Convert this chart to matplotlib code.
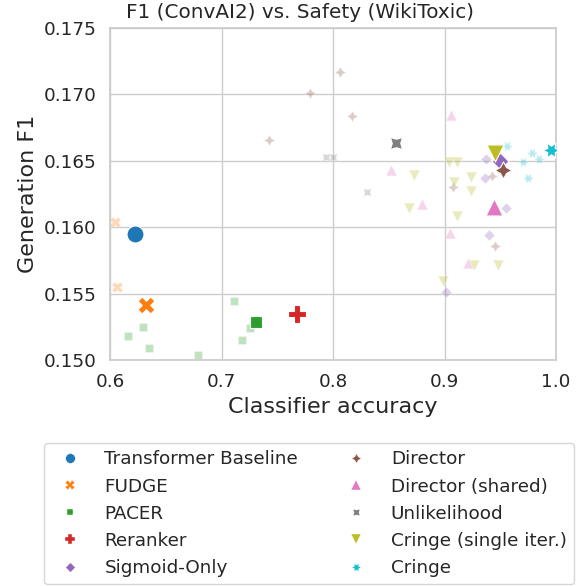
import numpy as np
import matplotlib
matplotlib.use("Agg")
import matplotlib.pyplot as plt
import seaborn as sns
from matplotlib.lines import Line2D

sns.set_theme(style="whitegrid", font_scale=1.2)

# method names, colours and markers (seaborn defaults)
methods = ["Transformer Baseline", "FUDGE", "PACER", "Reranker", "Sigmoid-Only",
           "Director", "Director (shared)", "Unlikelihood", "Cringe (single iter.)", "Cringe"]
colors = sns.color_palette("tab10", 10)
markers = ["o", "X", (4, 0, 45), "P", (4, 0, 0), (4, 1, 0), "^", (4, 1, 45), "v", (6, 1, 30)]

# best run per method (classifier accuracy, F1)
best_acc = [0.6227, 0.6326, 0.7307, 0.7674, 0.9498, 0.9525, 0.9444, 0.8565, 0.9453, 0.9955]
best_f1 = [0.15951, 0.15412, 0.15288, 0.15344, 0.16495, 0.16427, 0.16152, 0.16632, 0.16556, 0.16584]

# other runs (faded)
other_acc = [
    [],
    [0.6042, 0.6065],
    [0.7115, 0.7256, 0.7184, 0.6296, 0.6159, 0.6347, 0.6787],
    [],
    [0.9369, 0.9363, 0.9549, 0.9395, 0.9011],
    [0.7791, 0.7429, 0.8063, 0.8168, 0.9072, 0.9423, 0.9453],
    [0.8523, 0.9058, 0.8801, 0.9051, 0.9213],
    [0.7937, 0.8000, 0.8308],
    [0.8729, 0.8679, 0.9040, 0.9112, 0.9088, 0.9238, 0.9238, 0.9108, 0.9267, 0.9484, 0.8991],
    [0.9563, 0.9782, 0.9845, 0.9704, 0.9752],
]
other_f1 = [
    [],
    [0.16037, 0.15550],
    [0.15447, 0.15243, 0.15148, 0.15249, 0.15183, 0.15093, 0.15040],
    [],
    [0.16511, 0.16368, 0.16145, 0.15941, 0.15514],
    [0.17013, 0.16654, 0.17171, 0.16835, 0.16306, 0.16389, 0.15858],
    [0.16431, 0.16845, 0.16172, 0.15956, 0.15728],
    [0.16526, 0.16526, 0.16263],
    [0.16393, 0.16147, 0.16493, 0.16493, 0.16343, 0.16380, 0.16273, 0.16086, 0.15715, 0.15715, 0.15595],
    [0.16611, 0.16556, 0.16514, 0.16493, 0.16368],
]

fig = plt.figure(figsize=(5.8, 5.86), dpi=100)
ax = fig.add_axes([110 / 580, 1 - 360 / 586, 446 / 580, 332 / 586])

for i in range(len(methods)):
    if other_acc[i]:
        ax.scatter(other_acc[i], other_f1[i], s=60, color=colors[i], marker=markers[i],
                   alpha=0.3, edgecolor="white", linewidth=0.8)
    ax.scatter(best_acc[i], best_f1[i], s=150, color=colors[i], marker=markers[i],
               edgecolor="white", linewidth=0.8, zorder=3)

ax.set_xlim(0.6, 1.0)
ax.set_ylim(0.150, 0.175)
ax.set_xticks([0.6, 0.7, 0.8, 0.9, 1.0])
ax.set_yticks([0.150, 0.155, 0.160, 0.165, 0.170, 0.175])
ax.set_xlabel("Classifier accuracy", fontsize=16)
ax.set_ylabel("Generation F1", fontsize=16)
# title sits a bit left of the axes centre in the original
fig.text(300 / 580, 1 - 13 / 586, "F1 (ConvAI2) vs. Safety (WikiToxic)",
         ha="center", va="center", fontsize=14.4, color="0.15")

handles = [Line2D([], [], linestyle="none", marker=markers[i], color=colors[i],
                  markersize=7, markeredgecolor="white", markeredgewidth=0.3)
           for i in range(len(methods))]
fig.legend(handles, methods, loc="upper left", bbox_to_anchor=(44 / 580, 1 - 443 / 586),
           borderaxespad=0, ncol=2, handletextpad=0.9, columnspacing=2.15, fontsize=13.2)

fig.savefig("out.png", dpi=100)
